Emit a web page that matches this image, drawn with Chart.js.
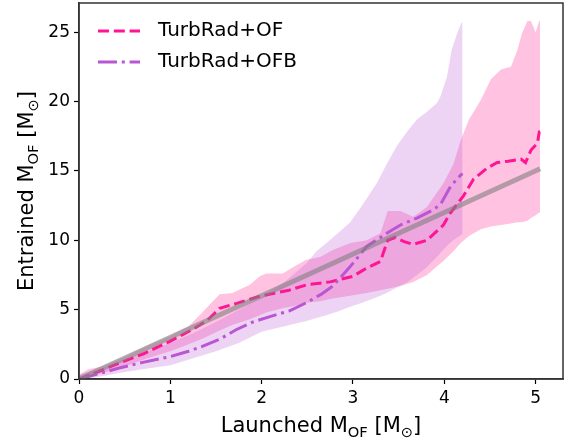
<!DOCTYPE html>
<html>
<head>
<meta charset="utf-8">
<script src="https://cdn.jsdelivr.net/npm/chart.js@4/dist/chart.umd.min.js"></script>
<style>
  html, body { margin: 0; padding: 0; background: #fff; }
  #wrap { width: 572px; height: 442px; }
</style>
</head>
<body>
<div id="wrap"><canvas id="myChart" width="572" height="442"></canvas></div>
<script>
// outflow mass: entrained vs launched
const xTicks = [0, 1, 2, 3, 4, 5];
const yTicks = [0, 5, 10, 15, 20, 25];

const seriesLabels = ["TurbRad+OF", "TurbRad+OFB"];

// TurbRad+OF median curve
const ofX = [0, 0.2, 0.44, 0.7, 0.99, 1.1, 1.25, 1.4, 1.48, 1.54, 1.7, 2.0, 2.3, 2.5, 2.75, 3.0, 3.15, 3.3, 3.38, 3.46, 3.56, 3.66, 3.81, 3.99, 4.07, 4.21, 4.32, 4.47, 4.58, 4.7, 4.84, 4.89, 4.95, 5.02, 5.04, 5.05];
const ofY = [0, 0.5, 1.15, 1.8, 2.7, 3.07, 3.6, 4.2, 4.7, 5.1, 5.4, 6.0, 6.4, 6.8, 7.0, 7.4, 8.0, 8.47, 10.0, 10.2, 9.9, 9.7, 10.0, 11.1, 12.0, 13.2, 14.4, 15.2, 15.6, 15.7, 15.85, 15.6, 16.5, 17.0, 17.8, 17.8];

// TurbRad+OF spread
const ofBandX = [0, 0.1, 0.25, 0.5, 0.75, 1.0, 1.2, 1.35, 1.45, 1.54, 1.68, 1.87, 1.98, 2.05, 2.23, 2.38, 2.49, 2.64, 2.78, 2.97, 3.15, 3.3, 3.38, 3.52, 3.66, 3.81, 3.99, 4.1, 4.18, 4.27, 4.4, 4.51, 4.62, 4.73, 4.8, 4.85, 4.91, 4.95, 5.0, 5.04, 5.05];
const ofHigh = [0.3, 0.7, 0.9, 1.6, 2.4, 3.1, 3.8, 4.8, 5.5, 6.1, 6.2, 6.8, 7.4, 7.6, 7.6, 8.2, 8.6, 8.8, 9.3, 9.8, 10.0, 10.5, 12.1, 12.1, 11.7, 12.4, 14.1, 15.5, 17.2, 18.7, 20.1, 21.6, 22.3, 22.5, 23.7, 24.9, 25.8, 25.8, 25.0, 25.8, 25.8];
const ofLow = [0, 0.1, 0.4, 0.9, 1.5, 2.0, 2.5, 2.9, 3.2, 3.5, 3.9, 4.3, 4.6, 4.8, 5.1, 5.3, 5.5, 5.6, 5.8, 6.0, 6.2, 6.4, 6.5, 6.7, 7.0, 7.5, 8.5, 9.2, 9.8, 10.3, 10.8, 11.0, 11.1, 11.2, 11.3, 11.3, 11.4, 11.6, 11.8, 12.0, 12.0];

// TurbRad+OFB median curve
const ofbX = [0, 0.2, 0.44, 0.7, 0.99, 1.2, 1.35, 1.55, 1.72, 1.9, 2.09, 2.3, 2.49, 2.65, 2.78, 2.97, 3.15, 3.37, 3.52, 3.7, 3.88, 3.96, 4.07, 4.18, 4.2];
const ofbY = [0, 0.35, 0.79, 1.2, 1.6, 2.0, 2.35, 2.9, 3.55, 4.1, 4.5, 4.9, 5.5, 6.1, 6.7, 8.1, 9.55, 10.5, 11.1, 11.6, 12.2, 12.6, 13.9, 14.7, 14.8];

// TurbRad+OFB spread
const ofbBandX = [0, 0.1, 0.25, 0.5, 0.75, 1.0, 1.25, 1.5, 1.75, 2.0, 2.25, 2.5, 2.6, 2.71, 2.85, 2.97, 3.1, 3.26, 3.37, 3.48, 3.6, 3.7, 3.8, 3.92, 3.96, 4.03, 4.08, 4.14, 4.19, 4.2];
const ofbHigh = [0.3, 0.5, 0.8, 1.4, 2.0, 2.6, 3.3, 4.1, 5.0, 5.9, 7.0, 8.4, 9.2, 9.8, 10.6, 11.3, 12.5, 14.1, 15.5, 16.8, 17.9, 18.7, 19.2, 19.9, 20.4, 21.8, 23.7, 24.9, 25.7, 25.7];
const ofbLow = [0, 0.05, 0.2, 0.5, 0.75, 1.0, 1.5, 2.0, 2.6, 3.4, 3.8, 4.2, 4.4, 4.6, 4.9, 5.2, 5.5, 5.9, 6.2, 6.6, 7.0, 7.5, 8.0, 8.8, 9.1, 9.6, 9.9, 10.2, 10.4, 10.4];

// one-to-one reference
const refX = [0, 5.05];
const refY = [0, 15.15];

const pinkLine = "#ff1493";
const pinkFill = "rgba(255,105,180,0.4)";
const purpleLine = "#ba55d3";
const purpleFill = "rgba(186,85,211,0.25)";
const fontFamily = "'DejaVu Sans', sans-serif";

const toPoints = (xs, ys) => xs.map((x, i) => ({ x: x, y: ys[i] }));

// draws text with subscript runs, parts = [[text, isSub], ...]
const drawRich = (ctx, parts, x, y, size) => {
    const subSize = size * 0.7;
    let total = 0;
    parts.forEach(p => {
        ctx.font = (p[1] ? subSize : size) + "px " + fontFamily;
        total += ctx.measureText(p[0]).width;
    });
    let cx = x - total / 2;
    parts.forEach(p => {
        ctx.font = (p[1] ? subSize : size) + "px " + fontFamily;
        ctx.fillText(p[0], cx, p[1] ? y + size * 0.22 : y);
        cx += ctx.measureText(p[0]).width;
    });
};

const framePlugin = {
    id: "frame",
    afterDraw(chart) {
        const ctx = chart.ctx;
        const a = chart.chartArea;
        ctx.save();
        ctx.strokeStyle = "#333";
        ctx.lineWidth = 1.5;
        ctx.strokeRect(a.left, a.top, a.right - a.left, a.bottom - a.top);

        // legend
        const items = [
            { label: seriesLabels[0], color: pinkLine, dash: [11, 4.8] },
            { label: seriesLabels[1], color: purpleLine, dash: [19, 4.8, 3, 4.8] }
        ];
        items.forEach((it, i) => {
            const y = 31 + i * 31;
            ctx.strokeStyle = it.color;
            ctx.lineWidth = 3;
            ctx.setLineDash(it.dash);
            ctx.beginPath();
            ctx.moveTo(98, y);
            ctx.lineTo(140, y);
            ctx.stroke();
            ctx.setLineDash([]);
            ctx.fillStyle = "#000";
            ctx.font = "20px " + fontFamily;
            ctx.textBaseline = "middle";
            ctx.textAlign = "left";
            ctx.fillText(it.label, 158, y);
        });

        // axis titles
        ctx.fillStyle = "#000";
        ctx.textBaseline = "alphabetic";
        ctx.textAlign = "left";
        drawRich(ctx, [["Launched M", false], ["OF", true], [" [M", false], ["\u2299", true], ["]", false]], (a.left + a.right) / 2, 432, 21);
        ctx.save();
        ctx.translate(33, (a.top + a.bottom) / 2);
        ctx.rotate(-Math.PI / 2);
        drawRich(ctx, [["Entrained M", false], ["OF", true], [" [M", false], ["\u2299", true], ["]", false]], 0, 0, 21);
        ctx.restore();
        ctx.restore();
    }
};

const ctx = document.getElementById("myChart").getContext("2d");
const myChart = new Chart(ctx, {
    type: "line",
    data: {
        datasets: [
            {
                label: "ref",
                data: toPoints(refX, refY),
                borderColor: "rgba(128,128,128,0.6)",
                borderWidth: 5,
                pointRadius: 0,
                fill: false,
                order: 0
            },
            {
                label: seriesLabels[1],
                data: toPoints(ofbX, ofbY),
                borderColor: purpleLine,
                borderWidth: 3,
                borderDash: [19, 4.8, 3, 4.8],
                pointRadius: 0,
                fill: false,
                order: 1
            },
            {
                label: seriesLabels[0],
                data: toPoints(ofX, ofY),
                borderColor: pinkLine,
                borderWidth: 3,
                borderDash: [11, 4.8],
                pointRadius: 0,
                fill: false,
                order: 2
            },
            {
                label: "ofbHigh",
                data: toPoints(ofbBandX, ofbHigh),
                borderWidth: 0,
                borderColor: "rgba(0,0,0,0)",
                backgroundColor: purpleFill,
                pointRadius: 0,
                fill: "+1",
                order: 3
            },
            {
                label: "ofbLow",
                data: toPoints(ofbBandX, ofbLow),
                borderWidth: 0,
                borderColor: "rgba(0,0,0,0)",
                pointRadius: 0,
                fill: false,
                order: 4
            },
            {
                label: "ofHigh",
                data: toPoints(ofBandX, ofHigh),
                borderWidth: 0,
                borderColor: "rgba(0,0,0,0)",
                backgroundColor: pinkFill,
                pointRadius: 0,
                fill: "+1",
                order: 5
            },
            {
                label: "ofLow",
                data: toPoints(ofBandX, ofLow),
                borderWidth: 0,
                borderColor: "rgba(0,0,0,0)",
                pointRadius: 0,
                fill: false,
                order: 6
            }
        ]
    },
    options: {
        responsive: false,
        animation: false,
        layout: { padding: { top: 3, right: 9, left: 0, bottom: 0 } },
        elements: { line: { tension: 0 } },
        plugins: { legend: { display: false }, tooltip: { enabled: false } },
        scales: {
            x: {
                type: "linear",
                min: 0,
                max: 5.3,
                afterBuildTicks: s => { s.ticks = xTicks.map(v => ({ value: v })); },
                afterFit: s => { s.height = 63; s.paddingLeft = 0; s.paddingRight = 0; },
                grid: { drawOnChartArea: false, drawTicks: true, tickLength: 5, color: "#000", tickWidth: 1.2 },
                border: { display: true, color: "#333", width: 1.5 },
                ticks: { color: "#000", font: { family: fontFamily, size: 17 }, padding: 4, maxRotation: 0 }
            },
            y: {
                type: "linear",
                min: 0,
                max: 27.1,
                afterBuildTicks: s => { s.ticks = yTicks.map(v => ({ value: v })); },
                afterFit: s => { s.width = 79; s.paddingTop = 0; s.paddingBottom = 0; },
                grid: { drawOnChartArea: false, drawTicks: true, tickLength: 5, color: "#000", tickWidth: 1.2 },
                border: { display: true, color: "#333", width: 1.5 },
                ticks: { color: "#000", font: { family: fontFamily, size: 17 }, padding: 4 }
            }
        }
    },
    plugins: [framePlugin]
});
</script>
</body>
</html>
